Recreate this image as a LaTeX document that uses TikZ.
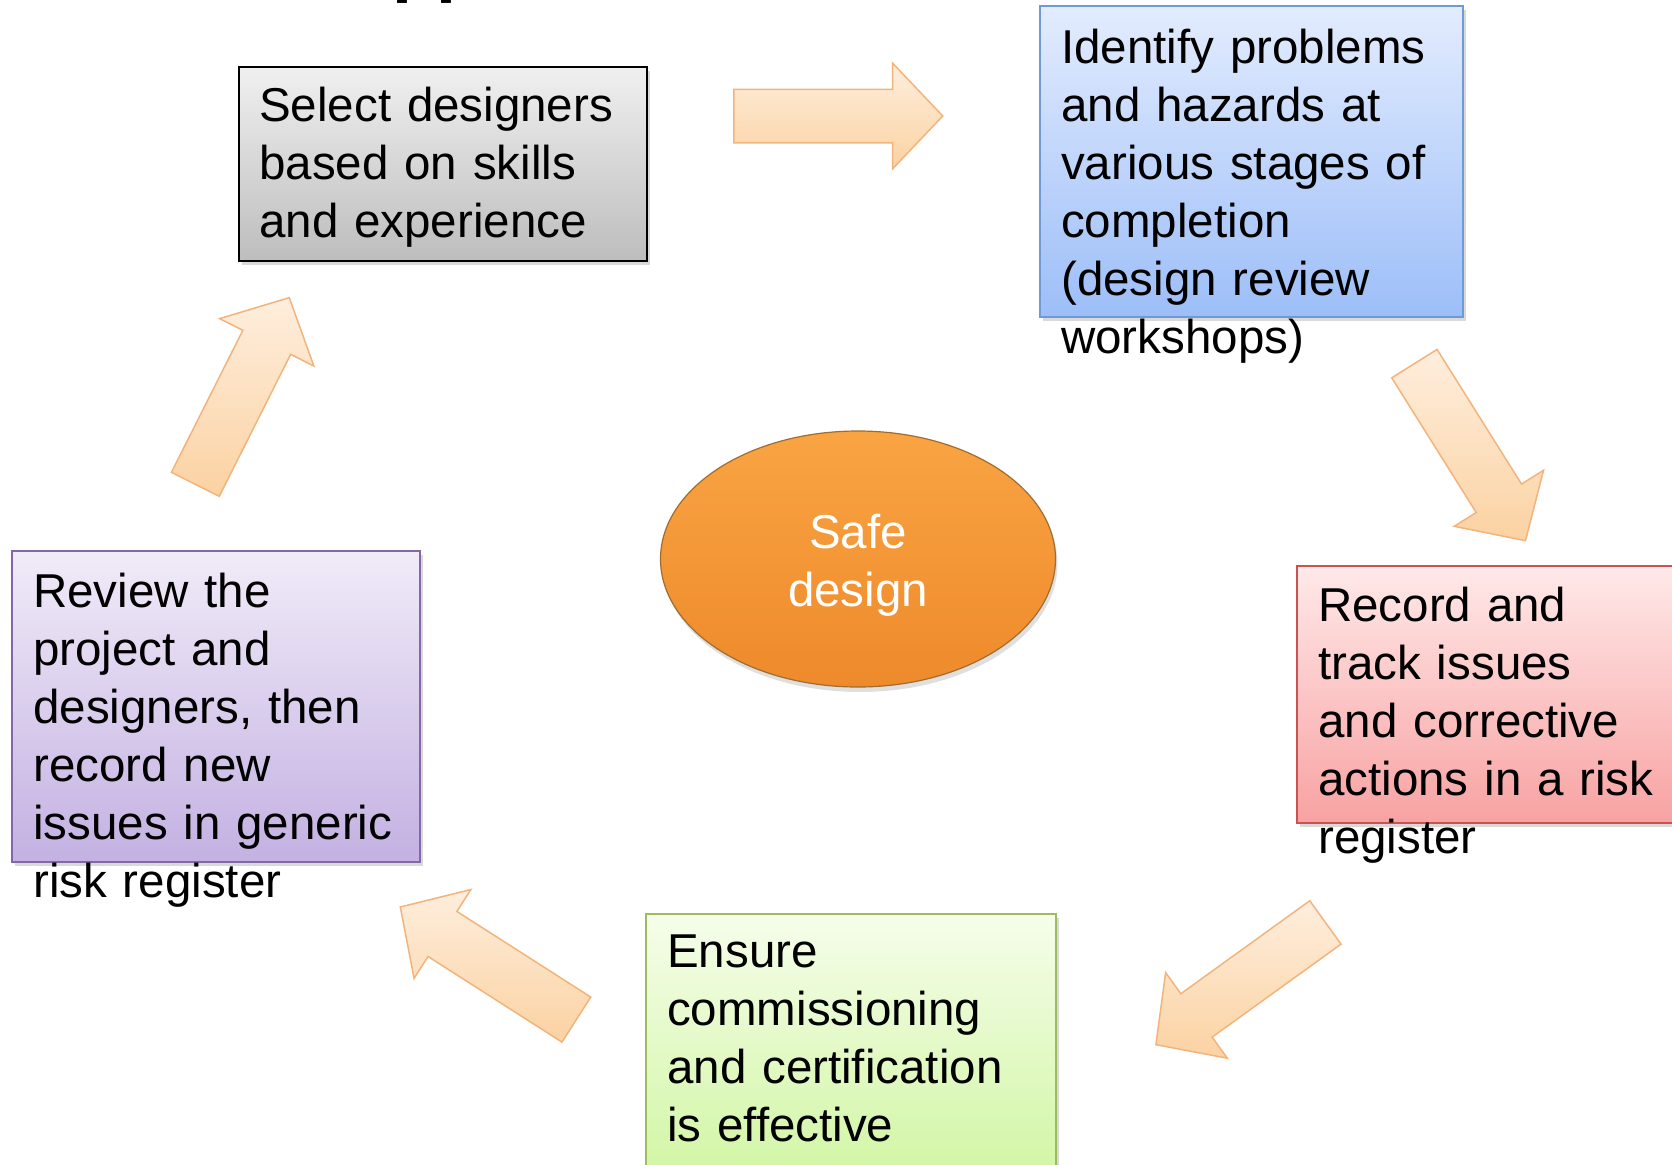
\documentclass[tikz,border=0pt]{standalone}
\usepackage{fontspec}
\setmainfont{Liberation Sans}
\usepackage{tikz}
\usetikzlibrary{shapes.geometric,shapes.arrows,shadows}
\definecolor{arrowtop}{HTML}{FEEEDD}
\definecolor{arrowbot}{HTML}{FBD2A2}
\definecolor{arrowline}{HTML}{F2B47C}
\definecolor{graytop}{HTML}{F0F0F0}
\definecolor{graybot}{HTML}{BDBDBD}
\definecolor{bluetop}{HTML}{E3ECFE}
\definecolor{bluebot}{HTML}{9CBEF8}
\definecolor{blueline}{HTML}{6F9AD6}
\definecolor{redtop}{HTML}{FFE9E9}
\definecolor{redbot}{HTML}{F8A2A2}
\definecolor{redline}{HTML}{CC5250}
\definecolor{greentop}{HTML}{F6FDEA}
\definecolor{greenbot}{HTML}{CCF59B}
\definecolor{greenline}{HTML}{9DBD5C}
\definecolor{purpletop}{HTML}{F1EBF8}
\definecolor{purplebot}{HTML}{C3B1E2}
\definecolor{purpleline}{HTML}{8467A6}
\definecolor{safetop}{HTML}{F9A443}
\definecolor{safebot}{HTML}{EE8A2B}
\definecolor{safeline}{HTML}{A06C30}
\tikzset{
    stepbox/.style = {
        rectangle,
        anchor=north west,
        inner sep=0pt,
        outer sep=0pt,
        line width=1.5pt,
        drop shadow={shadow xshift=3pt, shadow yshift=-4pt, opacity=0.3}
    },
    steptext/.style = {
        anchor=north west,
        align=left,
        inner sep=0pt,
        text width=420pt,
        font=\fontsize{47.5}{58}\selectfont
    },
    flowarrow/.style = {
        single arrow,
        draw=arrowline,
        line width=1.5pt,
        top color=arrowtop,
        bottom color=arrowbot,
        inner sep=26pt,
        minimum height=209pt,
        single arrow head extend=26pt,
        single arrow tip angle=93,
        anchor=tail
    }
}
\begin{document}
\begin{tikzpicture}[x=1pt,y=-1pt]
    \useasboundingbox (0,0) rectangle (1672,1164);
    % cut-off title
    \node [anchor=base west, inner sep=0pt, font=\bfseries\fontsize{72}{86}\selectfont] (title) at (392,-11) {pp};
    % boxes
    \node [stepbox, draw=black, top color=graytop, bottom color=graybot,
        minimum width=408pt, minimum height=194pt] (select) at (239,67) {};
    \node [stepbox, draw=blueline, top color=bluetop, bottom color=bluebot,
        minimum width=423pt, minimum height=311pt] (identify) at (1040,6) {};
    \node [stepbox, draw=redline, top color=redtop, bottom color=redbot,
        minimum width=420pt, minimum height=257pt] (record) at (1297,566) {};
    \node [stepbox, draw=greenline, top color=greentop, bottom color=greenbot,
        minimum width=410pt, minimum height=300pt] (ensure) at (646,914) {};
    \node [stepbox, draw=purpleline, top color=purpletop, bottom color=purplebot,
        minimum width=408pt, minimum height=311pt] (review) at (12,551) {};
    \node [ellipse, draw=safeline, line width=1.2pt, top color=safetop, bottom color=safebot,
        minimum width=395pt, minimum height=256pt, inner sep=0pt,
        drop shadow={shadow xshift=2pt, shadow yshift=-5pt, opacity=0.25}] (safe) at (858,559) {};
    % texts
    \node [align=center, inner sep=0pt, text=white, font=\fontsize{47.5}{58}\selectfont] (safe-text) at (858,565) {Safe\\design};
    \node [steptext] (select-text) at (259,87) {Select designers\\based on skills\\and experience};
    \node [steptext] (identify-text) at (1061,29) {Identify problems\\and hazards at\\various stages of\\completion\\(design review\\workshops)};
    \node [steptext] (record-text) at (1318,587) {Record and\\track issues\\and corrective\\actions in a risk\\register};
    \node [steptext] (ensure-text) at (667,935) {Ensure\\commissioning\\and certification\\is effective};
    \node [steptext] (review-text) at (33,573) {Review the\\project and\\designers, then\\record new\\issues in generic\\risk register};
    % arrows
    \node [flowarrow] (select-identify) at (733,116) {};
    \node [flowarrow, rotate=-57.9] (identify-record) at (1414,363) {};
    \node [flowarrow, rotate=-144.2] (record-ensure) at (1326,922) {};
    \node [flowarrow, rotate=147.4] (ensure-review) at (577,1020) {};
    \node [flowarrow, rotate=63.3] (review-select) at (195,485) {};
\end{tikzpicture}
\end{document}
